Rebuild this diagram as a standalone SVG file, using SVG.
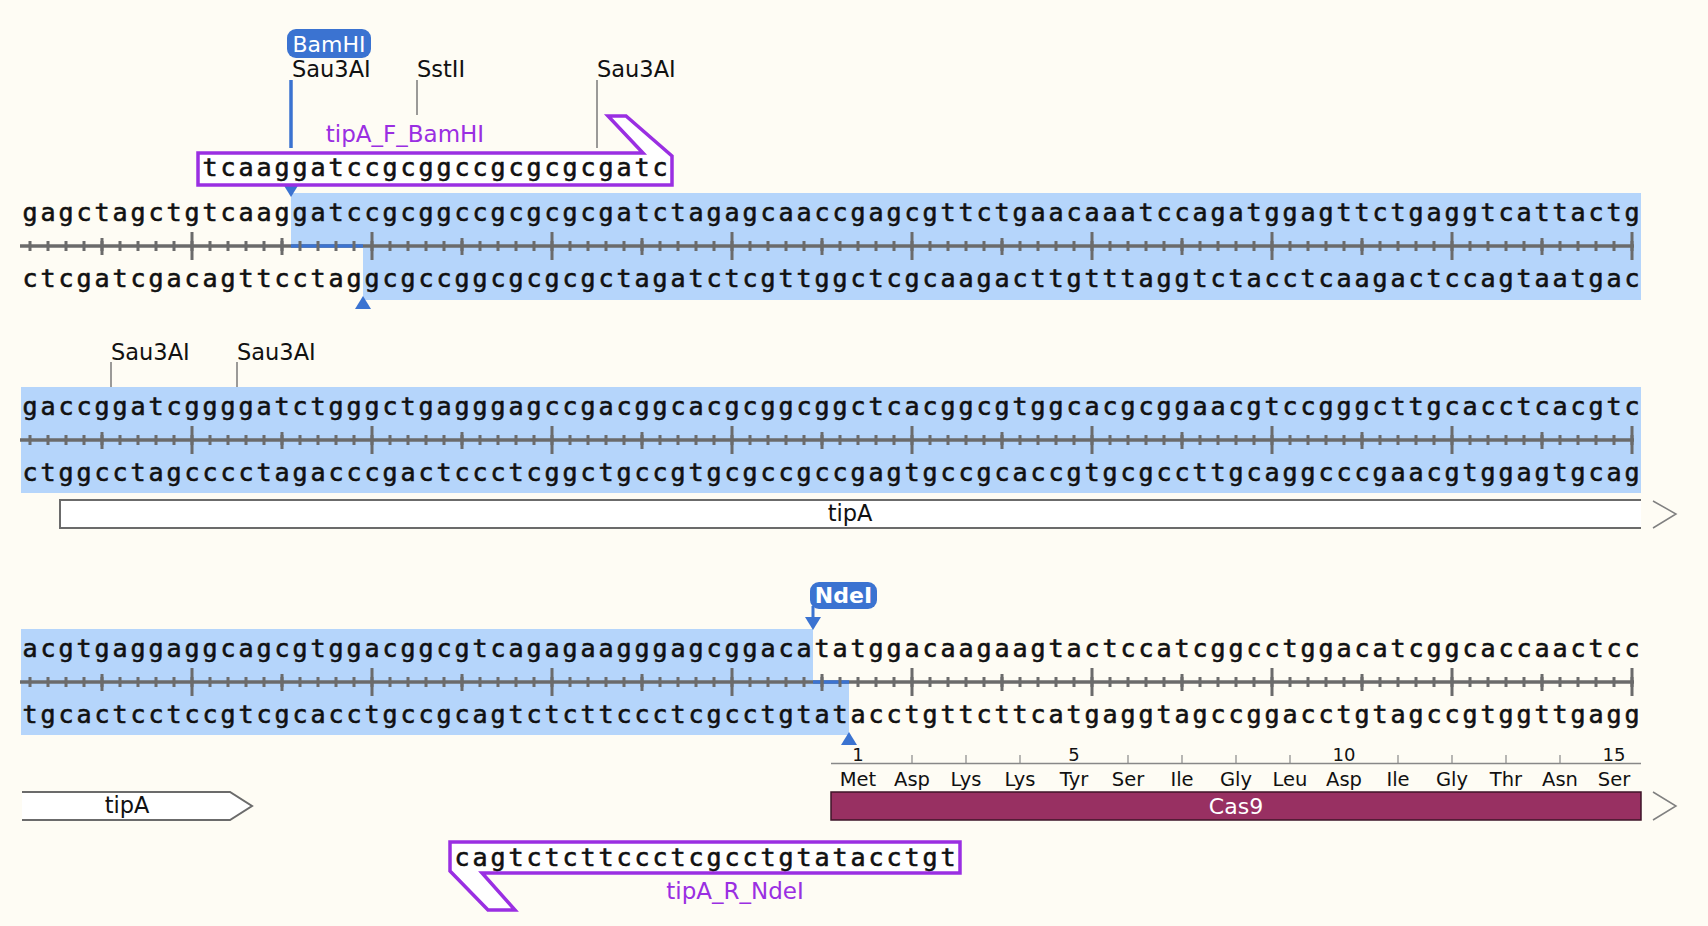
<svg xmlns="http://www.w3.org/2000/svg" width="1708" height="926" viewBox="0 0 1708 926">
<defs>
<style>
.seq{font-family:"DejaVu Sans Mono",monospace;font-size:25px;letter-spacing:2.95px;fill:#111;stroke:#111;stroke-width:0.6px}
.lbl{font-family:"DejaVu Sans",sans-serif;font-size:22.5px;fill:#111}
.plbl{font-family:"DejaVu Sans",sans-serif;font-size:23px;fill:#9a2fe2;text-anchor:middle}
.aa{font-family:"DejaVu Sans",sans-serif;font-size:19.5px;fill:#111;text-anchor:middle}
.num{font-family:"DejaVu Sans",sans-serif;font-size:18px;fill:#111;text-anchor:middle}
.enz{font-family:"DejaVu Sans",sans-serif;font-size:22px;fill:#fff;text-anchor:middle}
.hl{fill:#b5d5fb}
.rl{stroke:#6b6b6b;stroke-width:3.5}
.cut{stroke:#3b73d1;stroke-width:3.5}
.tri{fill:#3b73d1}
.lead{stroke:#7a7a7a;stroke-width:1.5}
.primer{fill:#fff;stroke:#9a2fe2;stroke-width:3.5;stroke-linejoin:miter}
.feat{fill:#fff;stroke:#6b6b6b;stroke-width:2}
.chev{fill:none;stroke:#808080;stroke-width:1.5}
</style>
<g id="rticks">
<line x1="28.5" y1="0" x2="1633.5" y2="0" stroke="#6b6b6b" stroke-width="10" stroke-dasharray="3 15"/>
<line x1="100.5" y1="0.5" x2="1633.5" y2="0.5" stroke="#6b6b6b" stroke-width="17" stroke-dasharray="3 177"/>
<line x1="190.5" y1="0" x2="1633.5" y2="0" stroke="#6b6b6b" stroke-width="28" stroke-dasharray="3 177"/>
</g>
</defs>
<rect width="1708" height="926" fill="#fefcf4"/>

<!-- Row 1 -->
<g id="row1">
<polygon class="hl" points="291,193 1641,193 1641,300 363,300 363,246 291,246"/>
<line class="rl" x1="20" y1="246" x2="1634" y2="246"/>
<line class="cut" x1="291" y1="246" x2="363" y2="246"/>
<use href="#rticks" y="246"/>
<text class="seq" x="22.475" y="221">gagctagctgtcaaggatccgcggccgcgcgcgatctagagcaaccgagcgttctgaacaaatccagatggagttctgaggtcattactg</text>
<text class="seq" x="22.475" y="287">ctcgatcgacagttcctaggcgccggcgcgcgctagatctcgttggctcgcaagacttgtttaggtctacctcaagactccagtaatgac</text>
<polygon class="tri" points="283,184 299,184 291,197"/>
<polygon class="tri" points="355,309 371,309 363,296"/>
</g>

<!-- Row 2 -->
<g id="row2">
<rect class="hl" x="21" y="387" width="1620" height="106"/>
<line class="rl" x1="20" y1="440" x2="1634" y2="440"/>
<use href="#rticks" y="440"/>
<text class="seq" x="22.475" y="415">gaccggatcggggatctgggctgagggagccgacggcacgcggcggctcacggcgtggcacgcggaacgtccgggcttgcacctcacgtc</text>
<text class="seq" x="22.475" y="481">ctggcctagcccctagacccgactccctcggctgccgtgcgccgccgagtgccgcaccgtgcgccttgcaggcccgaacgtggagtgcag</text>
</g>

<!-- Row 3 -->
<g id="row3">
<polygon class="hl" points="21,629 813,629 813,682 849,682 849,735 21,735"/>
<line class="rl" x1="20" y1="682" x2="1634" y2="682"/>
<line class="cut" x1="813" y1="682" x2="849" y2="682"/>
<use href="#rticks" y="682"/>
<text class="seq" x="22.475" y="657">acgtgaggaggcagcgtggacggcgtcagagaagggagcggacatatggacaagaagtactccatcggcctggacatcggcaccaactcc</text>
<text class="seq" x="22.475" y="723">tgcactcctccgtcgcacctgccgcagtctcttccctcgcctgtatacctgttcttcatgaggtagccggacctgtagccgtggttgagg</text>
<polygon class="tri" points="841,745 857,745 849,732"/>
</g>

<!-- connectors: enzyme leader lines -->
<g id="connectors">
<line class="cut" x1="291" y1="80" x2="291" y2="148"/>
<line class="lead" x1="417" y1="80" x2="417" y2="115"/>
<line class="lead" x1="597" y1="80" x2="597" y2="148"/>
<line class="lead" x1="111" y1="362" x2="111" y2="387"/>
<line class="lead" x1="237" y1="362" x2="237" y2="387"/>
<line stroke="#3b73d1" stroke-width="3" x1="813" y1="606" x2="813" y2="619"/>
<polygon class="tri" points="805,617 821,617 813,630"/>
</g>

<!-- enzyme labels -->
<g id="enz-bamhi">
<rect x="287" y="29" width="84" height="29" rx="9" fill="#3b73d1"/>
<text class="enz" x="329" y="52">BamHI</text>
</g>
<g id="enz-sau3ai-1"><text class="lbl" x="292" y="77">Sau3AI</text></g>
<g id="enz-sstii"><text class="lbl" x="417" y="77">SstII</text></g>
<g id="enz-sau3ai-2"><text class="lbl" x="597" y="77">Sau3AI</text></g>
<g id="enz-sau3ai-3"><text class="lbl" x="111" y="360">Sau3AI</text></g>
<g id="enz-sau3ai-4"><text class="lbl" x="237" y="360">Sau3AI</text></g>
<g id="enz-ndei">
<rect x="810" y="582" width="67" height="27" rx="9" fill="#3b73d1"/>
<text class="enz" x="843.5" y="603" font-weight="bold">NdeI</text>
</g>

<!-- primers -->
<g id="primer-f">
<text class="plbl" x="405" y="142">tipA_F_BamHI</text>
<polygon class="primer" points="198,153 643,153 608,116 626,116 672,156 672,185 198,185"/>
<text class="seq" x="202.475" y="176">tcaaggatccgcggccgcgcgcgatc</text>
</g>
<g id="primer-r">
<polygon class="primer" points="450,842 960,842 960,873 482,873 515,910 488,910 450,871"/>
<text class="seq" x="454.475" y="866">cagtctcttccctcgcctgtatacctgt</text>
<text class="plbl" x="735" y="899">tipA_R_NdeI</text>
</g>

<!-- features -->
<g id="feature-tipa-1">
<path class="feat" d="M1641,500 H60 V528 H1641"/>
<text class="lbl" x="850" y="521" text-anchor="middle">tipA</text>
<polyline class="chev" points="1653,501 1676,514 1653,528"/>
</g>
<g id="feature-tipa-2">
<path class="feat" d="M22,792 H230 L252,806 L230,820 H22"/>
<text class="lbl" x="127" y="813" text-anchor="middle">tipA</text>
</g>
<g id="feature-cas9">
<rect x="831" y="792" width="810" height="28" fill="#983062" stroke="#3e1428" stroke-width="1.5"/>
<text x="1236" y="814" style="font-family:'DejaVu Sans',sans-serif;font-size:22px;fill:#fff;text-anchor:middle">Cas9</text>
<polyline class="chev" points="1653,792 1676,806 1653,820"/>
<line x1="831" y1="763.5" x2="1641" y2="763.5" stroke="#888" stroke-width="1.5"/>
<g stroke="#888" stroke-width="1.2">
<line x1="912" y1="755" x2="912" y2="763"/><line x1="966" y1="755" x2="966" y2="763"/><line x1="1020" y1="755" x2="1020" y2="763"/>
<line x1="1128" y1="755" x2="1128" y2="763"/><line x1="1182" y1="755" x2="1182" y2="763"/><line x1="1236" y1="755" x2="1236" y2="763"/><line x1="1290" y1="755" x2="1290" y2="763"/>
<line x1="1398" y1="755" x2="1398" y2="763"/><line x1="1452" y1="755" x2="1452" y2="763"/><line x1="1506" y1="755" x2="1506" y2="763"/><line x1="1560" y1="755" x2="1560" y2="763"/>
</g>
<text class="num" x="858" y="761">1</text>
<text class="num" x="1074" y="761">5</text>
<text class="num" x="1344" y="761">10</text>
<text class="num" x="1614" y="761">15</text>
<text class="aa" x="858" y="786">Met</text>
<text class="aa" x="912" y="786">Asp</text>
<text class="aa" x="966" y="786">Lys</text>
<text class="aa" x="1020" y="786">Lys</text>
<text class="aa" x="1074" y="786">Tyr</text>
<text class="aa" x="1128" y="786">Ser</text>
<text class="aa" x="1182" y="786">Ile</text>
<text class="aa" x="1236" y="786">Gly</text>
<text class="aa" x="1290" y="786">Leu</text>
<text class="aa" x="1344" y="786">Asp</text>
<text class="aa" x="1398" y="786">Ile</text>
<text class="aa" x="1452" y="786">Gly</text>
<text class="aa" x="1506" y="786">Thr</text>
<text class="aa" x="1560" y="786">Asn</text>
<text class="aa" x="1614" y="786">Ser</text>
</g>
</svg>
